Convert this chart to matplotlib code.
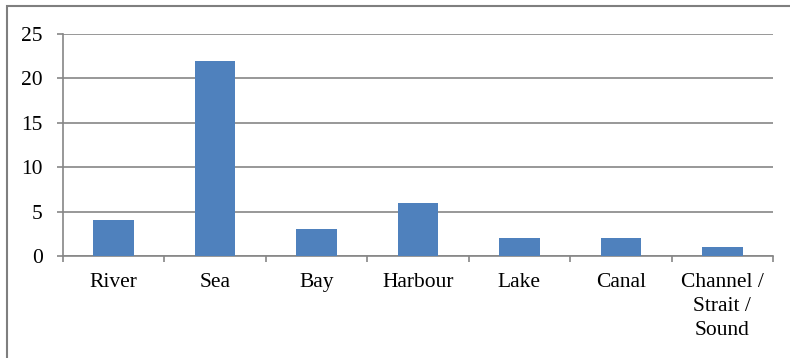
import matplotlib
matplotlib.use("Agg")
import matplotlib.pyplot as plt
from matplotlib.patches import Rectangle
import numpy as np

categories = ["River", "Sea", "Bay", "Harbour", "Lake", "Canal", "Channel /\nStrait /\nSound"]
values = [4, 22, 3, 6, 2, 2, 1]
yticks = [0, 5, 10, 15, 20, 25]

plt.rcParams['font.family'] = ['Liberation Serif', 'DejaVu Serif']

fig = plt.figure(figsize=(7.9, 3.58), dpi=100)
ax = fig.add_axes([63/790, 1-256/358, (773-63)/790, (256-34)/358])

grey = "#868686"
x = np.arange(len(categories))
ax.bar(x, values, width=0.4, color="#4F81BD", zorder=3)

ax.set_xlim(-0.5, len(categories)-0.5)
ax.set_ylim(0, 25)
ax.set_yticks(yticks)
ax.set_yticklabels([str(t) for t in yticks], fontsize=15.5)
ax.yaxis.grid(True, color=grey, linewidth=1.2, zorder=0)
ax.set_axisbelow(True)

ax.set_xticks(x)
ax.set_xticklabels(categories, fontsize=15.5, linespacing=1.36, va="top")
ax.tick_params(axis="x", length=0, pad=12)
ax.set_xticks(np.arange(len(categories)+1)-0.5, minor=True)
ax.tick_params(axis="x", which="minor", length=4.5, width=1.2, color=grey, direction="out")
ax.tick_params(axis="y", length=4.5, width=1.2, color=grey, direction="out", pad=10)

for s in ["top", "right"]:
    ax.spines[s].set_visible(False)
for s in ["left", "bottom"]:
    ax.spines[s].set_color(grey)
    ax.spines[s].set_linewidth(1.2)

# outer chart border (left and top visible)
fig.patches.append(Rectangle((6.5/790, -0.05), 1.2, 1-5.5/358+0.05, transform=fig.transFigure,
                             fill=False, edgecolor="#7f7f7f", linewidth=1.5, figure=fig))

fig.savefig("out.png", dpi=100)
